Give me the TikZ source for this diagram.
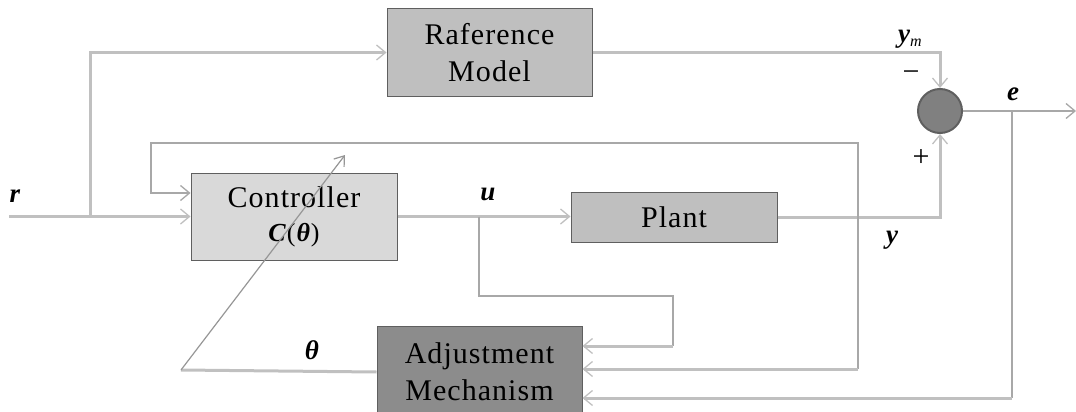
\documentclass[tikz,border=0pt]{standalone}
\usepackage{fontspec}
\setmainfont{Liberation Serif}
\newfontfamily\boxfont[LetterSpace=3.5]{Liberation Serif}
\usetikzlibrary{arrows.meta,calc}
\definecolor{thk}{RGB}{192,192,192}
\definecolor{thn}{RGB}{168,168,168}
\definecolor{bord}{RGB}{95,95,95}
\tikzset{
  blk/.style={draw=bord,line width=1pt,minimum width=205pt,inner sep=0pt,align=center,
    font=\boxfont\fontsize{30}{37}\selectfont},
  thickl/.style={draw=thk,line width=3pt},
  thinl/.style={draw=thn,line width=1.5pt},
  tipa/.style={-{Straight Barb[length=9pt,width=15pt,line width=1.3pt]}},
  lab/.style={font=\fontsize{27}{27}\selectfont\bfseries\itshape,inner sep=0pt},
  sgn/.style={font=\fontsize{30}{30}\selectfont,inner sep=0pt}
}
\begin{document}
\begin{tikzpicture}[x=1pt,y=-1pt]
\useasboundingbox (0,0) rectangle (1076,412);
% blocks
\node[blk,fill={rgb,255:red,191;green,191;blue,191},minimum height=87pt] (rm) at (489.5,52.5) {Raference\\Model};
\node[blk,fill={rgb,255:red,217;green,217;blue,217},minimum height=87pt,minimum width=206pt] (ctrl) at (294,216.5)
  {Controller\\[-3pt]{\fontsize{26}{26}\selectfont\textbf{\textit{C}}(\textbf{\textit{θ}})}};
\node[blk,fill={rgb,255:red,191;green,191;blue,191},minimum height=50pt,minimum width=206pt] (plant) at (674,217.5) {Plant};
\node[blk,fill={rgb,255:red,140;green,140;blue,140},minimum height=92pt] (adj) at (479.5,372) {Adjustment\\Mechanism};
\node[circle,draw=bord,line width=2pt,fill={rgb,255:red,128;green,128;blue,128},minimum size=44pt,inner sep=0pt] (sum) at (940,111) {};
% coordinates
\coordinate (rin) at (9,216.5);
\coordinate (br) at (90,216.5);
\coordinate (yt) at (858,217.5);
\coordinate (fbR) at (858,143);
\coordinate (fbL) at (151,143);
\coordinate (cin) at (151,193);
\coordinate (yb) at (858,369);
\coordinate (ub) at (479,216.5);
\coordinate (uc) at (673,296);
\coordinate (ua) at (673,346);
\coordinate (eb) at (1012,111);
\coordinate (ebb) at (1012,398);
\coordinate (eout) at (1076,111);
\coordinate (th) at (181,370);
\coordinate (tip) at (345,155);
% connectors
\draw[thickl,tipa] (rin) -- (ctrl.west);
\draw[thickl,tipa] (br) |- (rm.west);
\draw[thickl,tipa] (ctrl.east) -- (ctrl.east -| plant.west);
\draw[thickl,tipa] (plant.east) -| (sum.south);
\draw[thickl,tipa] (rm.east) -| (sum.north);
\draw[thinl,tipa] (sum.east) -- (eout);
\draw[thinl] (eb) -- (ebb);
\draw[thickl,tipa] (ebb) -- (ebb -| adj.east);
\draw[thinl,tipa] (yt) -- (fbR) -- (fbL) -- (cin) -- (cin -| ctrl.west);
\draw[thinl] (yt) -- (yb);
\draw[thickl,tipa] (yb) -- (yb -| adj.east);
\draw[thinl] (ub) |- (uc) -- (ua);
\draw[thickl,tipa] (ua) -- (ua -| adj.east);
\draw[thickl] (adj.west) -- (th);
\draw[thinl,draw={rgb,255:red,150;green,150;blue,150},line width=1.2pt,-{Straight Barb[length=9pt,width=13pt,line width=1.2pt]}] (th) -- (tip);
% labels
\node[lab] (lr) at (15,196) {r};
\node[lab] (lu) at (488,194) {u};
\node[lab] (ly) at (892,240) {y};
\node[lab] (lym) at (910,39) {y\raisebox{-4pt}{\fontsize{16}{16}\selectfont\mdseries\itshape m}};
\node[lab] (le) at (1013,94) {e};
\node[lab] (lth) at (312,350) {θ};
\node[sgn] (lminus) at (911,76) {−};
\node[sgn] (lplus) at (921,158) {+};
\end{tikzpicture}
\end{document}
